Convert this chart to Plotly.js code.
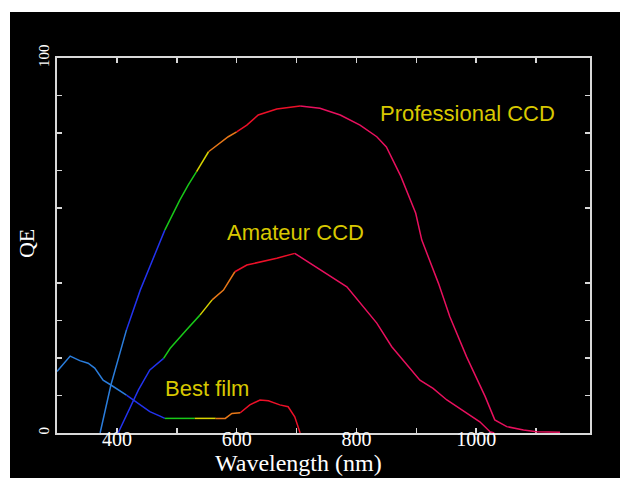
<!DOCTYPE html>
<html>
<head>
<meta charset="utf-8">
<script src="https://cdn.plot.ly/plotly-3.0.1.min.js"></script>
<style>
  html, body { margin: 0; padding: 0; background: #ffffff; width: 629px; height: 478px; overflow: hidden; }
  #chart { position: absolute; left: 10px; top: 12px; width: 610px; height: 466px; }
</style>
</head>
<body>
<div id="chart"></div>
<script>
// ---- data ----
const proWavelength = [372, 390, 416, 439, 480, 505, 519, 533, 553, 586, 600, 617, 636, 667, 706, 739, 773, 806, 834, 850, 874, 899, 909, 937, 956, 984, 1015, 1031, 1051, 1079, 1101, 1140];
const proQE         = [0, 12.8, 27.5, 38.1, 54.1, 62.1, 66.1, 69.7, 75.0, 79.0, 80.3, 82.1, 84.8, 86.4, 87.2, 86.6, 84.8, 82.1, 79.0, 76.3, 68.5, 58.6, 51.5, 39.9, 31.0, 20.3, 9.7, 3.5, 1.7, 0.8, 0.35, 0.2];

const amaWavelength = [402, 436, 455, 478, 489, 516, 539, 559, 578, 597, 617, 667, 697, 739, 784, 834, 859, 906, 928, 951, 984, 1006, 1023, 1030];
const amaQE         = [0, 11.5, 16.8, 19.9, 22.6, 27.5, 31.5, 35.5, 38.1, 43.0, 44.8, 46.6, 47.9, 43.5, 39.0, 29.3, 23.0, 14.1, 11.9, 8.8, 5.2, 3.0, 0.35, 0];

const filmWavelength = [300, 322, 338, 352, 363, 377, 390, 416, 439, 455, 472, 480, 530, 565, 581, 592, 606, 622, 639, 653, 672, 686, 697, 706];
const filmQE         = [16.4, 20.5, 19.3, 18.6, 17.3, 14.1, 12.8, 10.1, 7.5, 5.7, 4.5, 3.9, 3.9, 3.9, 3.9, 5.2, 5.4, 7.5, 8.8, 8.6, 7.5, 7.0, 4.3, 0];

const xTickVals = [400, 500, 600, 700, 800, 900, 1000, 1100];
const xTickText = ['400', '', '600', '', '800', '', '1000', ''];
const yTickVals = [0, 10, 20, 30, 40, 60, 70, 80, 90, 100];
const yTickText = ['0', '', '', '', '', '', '', '', '', '100'];

const labelPro = 'Professional CCD';
const labelAma = 'Amateur CCD';
const labelFilm = 'Best film';

// ---- styling: spectral colouring of the curves ----
const bandEdges  = [410, 480, 530, 565, 600, 702];
const bandColors = ['#2a7ddc', '#2233ee', '#18c818', '#d8d400', '#e87818', '#ec1028', '#e8105e'];
function colorFor(w) {
  for (let i = 0; i < bandEdges.length; i++) if (w < bandEdges[i]) return bandColors[i];
  return bandColors[bandColors.length - 1];
}

const traces = [];
function addCurve(xs, ys) {
  let cur = null;
  for (let i = 0; i < xs.length - 1; i++) {
    const c = colorFor((xs[i] + xs[i + 1]) / 2);
    if (!cur || cur.line.color !== c) {
      cur = { type: 'scatter', mode: 'lines', x: [xs[i]], y: [ys[i]],
              line: { color: c, width: 1.5 }, hoverinfo: 'skip', showlegend: false };
      traces.push(cur);
    }
    cur.x.push(xs[i + 1]);
    cur.y.push(ys[i + 1]);
  }
}
addCurve(filmWavelength, filmQE);
addCurve(amaWavelength, amaQE);
addCurve(proWavelength, proQE);

const axisCol = '#d8d8d8';
const yellow = '#d8c800';
const layout = {
  width: 610, height: 466,
  paper_bgcolor: '#000000', plot_bgcolor: '#000000',
  margin: { l: 47, r: 30, t: 46, b: 45 },
  showlegend: false,
  xaxis: {
    range: [300, 1190], tickmode: 'array', tickvals: xTickVals, ticktext: xTickText,
    ticks: 'inside', ticklen: 5, tickwidth: 1.5, tickcolor: axisCol,
    showline: true, linecolor: axisCol, linewidth: 2, mirror: 'ticks',
    showgrid: false, zeroline: false, layer: 'below traces',
    ticklabelstandoff: -13,
    tickfont: { family: 'Liberation Serif, serif', size: 20, color: '#ffffff' }
  },
  yaxis: {
    range: [0, 100], tickmode: 'array', tickvals: yTickVals, ticktext: yTickText,
    ticks: 'inside', ticklen: 5, tickwidth: 1.5, tickcolor: axisCol,
    showline: true, linecolor: axisCol, linewidth: 2, mirror: 'ticks',
    showgrid: false, zeroline: false, layer: 'below traces', tickangle: -90,
    tickfont: { family: 'Liberation Serif, serif', size: 15, color: '#ffffff' }
  },
  annotations: [
    { text: labelPro, x: 986, y: 85.3, xref: 'x', yref: 'y', showarrow: false,
      font: { family: 'Liberation Sans, Arial, sans-serif', size: 22, color: yellow } },
    { text: labelAma, x: 698, y: 53.6, xref: 'x', yref: 'y', showarrow: false,
      font: { family: 'Liberation Sans, Arial, sans-serif', size: 22, color: yellow } },
    { text: labelFilm, x: 550, y: 12, xref: 'x', yref: 'y', showarrow: false,
      font: { family: 'Liberation Sans, Arial, sans-serif', size: 22, color: yellow } },
    { text: 'Wavelength (nm)', x: 0.454, y: -0.08, xref: 'paper', yref: 'paper',
      xanchor: 'center', yanchor: 'middle', showarrow: false,
      font: { family: 'Liberation Serif, serif', size: 24, color: '#ffffff' } },
    { text: 'QE', x: -0.058, y: 0.504, xref: 'paper', yref: 'paper', textangle: -90,
      xanchor: 'center', yanchor: 'middle', showarrow: false,
      font: { family: 'Liberation Serif, serif', size: 22, color: '#ffffff' } }
  ]
};

Plotly.newPlot('chart', traces, layout, { staticPlot: true, displayModeBar: false });
</script>
</body>
</html>
